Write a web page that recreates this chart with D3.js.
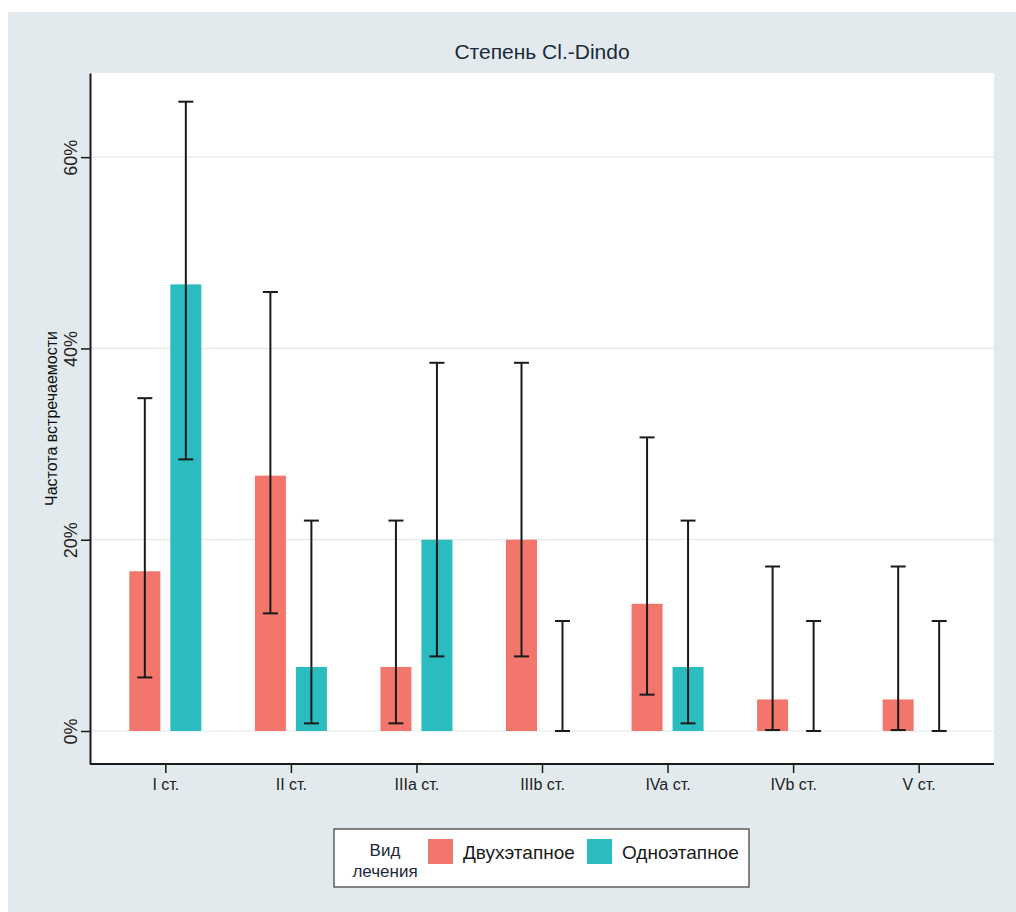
<!DOCTYPE html>
<html>
<head>
<meta charset="utf-8">
<script src="https://cdn.jsdelivr.net/npm/d3@7"></script>
<style>
  html, body { margin: 0; padding: 0; background: #ffffff; }
  svg { display: block; }
  text { font-family: "Liberation Sans", Arial, sans-serif; }
</style>
</head>
<body>
<svg id="chart" width="1016" height="912"></svg>
<script>
// ---- data ----
const categories = ["I ст.", "II ст.", "IIIa ст.", "IIIb ст.", "IVa ст.", "IVb ст.", "V ст."];
const seriesNames = ["Двухэтапное", "Одноэтапное"];
const twoStage      = [16.7, 26.7, 6.7, 20.0, 13.3, 3.3, 3.3];
const twoStageLow   = [5.6, 12.3, 0.8, 7.8, 3.8, 0.1, 0.1];
const twoStageHigh  = [34.8, 45.9, 22.0, 38.5, 30.7, 17.2, 17.2];
const oneStage      = [46.7, 6.7, 20.0, 0, 6.7, 0, 0];
const oneStageLow   = [28.4, 0.8, 7.8, 0, 0.8, 0, 0];
const oneStageHigh  = [65.8, 22.0, 38.5, 11.5, 22.0, 11.5, 11.5];
const yTicks = [0, 20, 40, 60];
const titleText = "Степень Cl.-Dindo";
const yTitle = "Частота встречаемости";
const legendTitle = ["Вид", "лечения"];
const colors = ["#F2766B", "#2BBCBF"];

// ---- layout ----
const svg = d3.select("#chart");
const W = 1016, H = 912;
const panel = { left: 90, right: 994, top: 73, bottom: 764 };

svg.append("rect").attr("x", 0).attr("y", 0).attr("width", W).attr("height", H).attr("fill", "#ffffff");
svg.append("rect").attr("x", 8).attr("y", 12).attr("width", W - 8).attr("height", H - 12).attr("fill", "#E2EAED");
svg.append("rect").attr("x", panel.left).attr("y", panel.top)
  .attr("width", panel.right - panel.left).attr("height", panel.bottom - panel.top).attr("fill", "#ffffff");

const x = d3.scalePoint().domain(categories).range([panel.left, panel.right]).padding(0.6);
const y = d3.scaleLinear().domain([-3.45, 68.8]).range([panel.bottom, panel.top]);

// gridlines
svg.append("g").selectAll("line").data(yTicks).join("line")
  .attr("x1", panel.left).attr("x2", panel.right)
  .attr("y1", d => y(d)).attr("y2", d => y(d))
  .attr("stroke", "#E1E9EC").attr("stroke-width", 1.2);

// bars
const barW = 31, offset = 20.5;
const series = [
  { name: seriesNames[0], vals: twoStage, lo: twoStageLow, hi: twoStageHigh, dx: -offset, color: colors[0] },
  { name: seriesNames[1], vals: oneStage, lo: oneStageLow, hi: oneStageHigh, dx: offset, color: colors[1] }
];
series.forEach(s => {
  const g = svg.append("g");
  g.selectAll("rect").data(categories).join("rect")
    .attr("x", (c) => x(c) + s.dx - barW / 2)
    .attr("width", barW)
    .attr("y", (c, i) => y(s.vals[i]))
    .attr("height", (c, i) => y(0) - y(s.vals[i]))
    .attr("fill", s.color);
});
// error bars
series.forEach(s => {
  const g = svg.append("g").attr("stroke", "#1a1a1a").attr("stroke-width", 2);
  categories.forEach((c, i) => {
    const cx = x(c) + s.dx;
    g.append("line").attr("x1", cx).attr("x2", cx).attr("y1", y(s.lo[i])).attr("y2", y(s.hi[i]));
    g.append("line").attr("x1", cx - 7.5).attr("x2", cx + 7.5).attr("y1", y(s.hi[i])).attr("y2", y(s.hi[i]));
    g.append("line").attr("x1", cx - 7.5).attr("x2", cx + 7.5).attr("y1", y(s.lo[i])).attr("y2", y(s.lo[i]));
  });
});

// y axis
const yAxis = d3.axisLeft(y).tickValues(yTicks).tickSize(9).tickSizeOuter(0).tickPadding(0)
  .tickFormat(d => d + "%");
const gy = svg.append("g").attr("transform", `translate(${panel.left},0)`).call(yAxis);
gy.select(".domain").attr("stroke", "#1a1a1a").attr("stroke-width", 2);
gy.selectAll(".tick line").attr("stroke", "#1a1a1a").attr("stroke-width", 1.5);
gy.selectAll(".tick text")
  .attr("transform", "translate(-19,0) rotate(-90)")
  .attr("x", 0).attr("dy", "0.35em")
  .attr("text-anchor", "middle")
  .attr("font-size", 18).attr("fill", "#222");

// x axis
const xAxis = d3.axisBottom(x).tickSize(9).tickSizeOuter(0).tickPadding(6);
const gx = svg.append("g").attr("transform", `translate(0,${panel.bottom})`).call(xAxis);
gx.select(".domain").attr("stroke", "#1a1a1a").attr("stroke-width", 2)
  .attr("d", `M${panel.left},0H${panel.right}`);
gx.selectAll(".tick line").attr("stroke", "#1a1a1a").attr("stroke-width", 1.5);
gx.selectAll(".tick text").attr("font-size", 16).attr("fill", "#222");

// titles
svg.append("text").attr("x", 542).attr("y", 59).attr("text-anchor", "middle")
  .attr("font-size", 21).attr("fill", "#1c2a3a").text(titleText);
svg.append("text").attr("transform", `translate(57,${(panel.top + panel.bottom) / 2}) rotate(-90)`)
  .attr("text-anchor", "middle").attr("font-size", 16).attr("fill", "#111").text(yTitle);

// legend
const lg = svg.append("g");
lg.append("rect").attr("x", 334).attr("y", 829).attr("width", 415).attr("height", 58)
  .attr("fill", "#ffffff").attr("stroke", "#3a3a3a").attr("stroke-width", 1.2);
lg.append("text").attr("x", 385).attr("y", 856).attr("text-anchor", "middle")
  .attr("font-size", 17).attr("fill", "#1c2a3a").text(legendTitle[0]);
lg.append("text").attr("x", 385).attr("y", 877).attr("text-anchor", "middle")
  .attr("font-size", 17).attr("fill", "#1c2a3a").text(legendTitle[1]);
const legX = [428, 587];
series.forEach((s, i) => {
  lg.append("rect").attr("x", legX[i]).attr("y", 839).attr("width", 25).attr("height", 25).attr("fill", s.color);
  lg.append("text").attr("x", legX[i] + 35).attr("y", 859).attr("font-size", 19).attr("fill", "#1a1a1a").text(s.name);
});
</script>
</body>
</html>
